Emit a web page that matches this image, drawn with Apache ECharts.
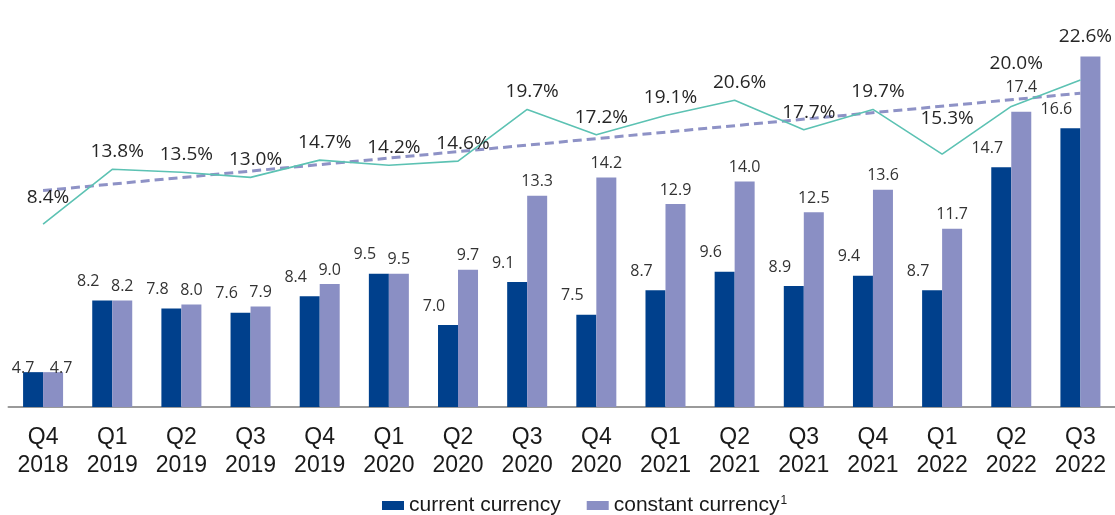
<!DOCTYPE html>
<html>
<head>
<meta charset="utf-8">
<script src="https://cdn.jsdelivr.net/npm/echarts@6/dist/echarts.min.js"></script>
<style>
  html, body { margin: 0; padding: 0; background: #fff; }
  #chart { width: 1115px; height: 515px; }
</style>
</head>
<body>
<div id="chart"></div>
<script>
var quarters = ['Q4\n2018', 'Q1\n2019', 'Q2\n2019', 'Q3\n2019', 'Q4\n2019', 'Q1\n2020', 'Q2\n2020', 'Q3\n2020',
  'Q4\n2020', 'Q1\n2021', 'Q2\n2021', 'Q3\n2021', 'Q4\n2021', 'Q1\n2022', 'Q2\n2022', 'Q3\n2022']
var currentCurrency = [4.7, 8.2, 7.8, 7.6, 8.4, 9.5, 7.0, 9.1, 7.5, 8.7, 9.6, 8.9, 9.4, 8.7, 14.7, 16.6]
// last bar has no printed label in the source, value estimated from its height
var constantCurrency = [4.7, 8.2, 8.0, 7.9, 9.0, 9.5, 9.7, 13.3, 14.2, 12.9, 14.0, 12.5, 13.6, 11.7, 17.4, 20.1]
var growthPct = [8.4, 13.8, 13.5, 13.0, 14.7, 14.2, 14.6, 19.7, 17.2, 19.1, 20.6, 17.7, 19.7, 15.3, 20.0, 22.6]
// trend line end points
var trendStart = 11.7
var trendEnd = 21.3

var chart = echarts.init(document.getElementById('chart'))

// extra lift (px) for % labels that would sit on a bar
var liftPct = { 0: 9, 13: 18, 14: 25, 15: 26 }

var option = {
  animation: false,
  textStyle: { fontFamily: 'Open Sans' },
  grid: {
    left: 8.5,
    width: 1109,
    top: 17.5,
    bottom: 108
  },
  legend: {
    data: ['current currency', 'constant currency'],
    bottom: -6,
    left: 377,
    icon: 'rect',
    itemWidth: 22,
    itemHeight: 9,
    itemGap: 26,
    formatter: function (name) {
      return name === 'constant currency' ? name + '{sup|1}' : name
    },
    textStyle: {
      fontFamily: 'Liberation Sans',
      fontSize: 21,
      color: '#1a1a1a',
      rich: {
        sup: { fontSize: 12, fontFamily: 'Liberation Sans', color: '#1a1a1a', verticalAlign: 'top', padding: [0, 0, 10, 1] }
      }
    }
  },
  xAxis: {
    type: 'category',
    data: quarters,
    boundaryGap: true,
    axisLine: { onZero: false, lineStyle: { color: '#9a9a9a', width: 2 } },
    axisTick: { alignWithLabel: true, length: 6, lineStyle: { color: '#9a9a9a', width: 2 } },
    axisLabel: {
      interval: 0,
      margin: 17,
      fontFamily: 'Liberation Sans',
      fontSize: 23,
      lineHeight: 28,
      color: '#1a1a1a'
    }
  },
  yAxis: [
    { type: 'value', min: 3, max: 22, show: false },
    { type: 'value', min: -9.65, max: 28.77, show: false }
  ],
  series: [
    {
      name: 'current currency',
      type: 'bar',
      barWidth: 20,
      barGap: '0%',
      itemStyle: { color: '#00408c' },
      label: {
        show: true,
        position: 'top',
        distance: 11,
        fontSize: 16,
        color: '#333',
        formatter: function (p) { return p.value.toFixed(1) }
      },
      labelLayout: function (p) {
        // first pair of labels sits on the bar tops
        return p.dataIndex === 0 ? { dx: -10, dy: 15 } : { dx: -14 }
      },
      data: currentCurrency
    },
    {
      name: 'constant currency',
      type: 'bar',
      barWidth: 20,
      barGap: '0%',
      itemStyle: { color: '#8a8fc4' },
      label: {
        show: true,
        position: 'top',
        distance: 6,
        fontSize: 16,
        color: '#333',
        formatter: function (p) {
          return p.dataIndex === constantCurrency.length - 1 ? '' : p.value.toFixed(1)
        }
      },
      labelLayout: function (p) {
        if (p.dataIndex === 0) return { dx: 8, dy: 10 }
        if (p.dataIndex === 14) return { dy: -10 }
        return {}
      },
      data: constantCurrency
    },
    {
      name: 'growth',
      type: 'line',
      yAxisIndex: 1,
      symbol: 'circle',
      symbolSize: 0.01,
      showSymbol: true,
      z: 5,
      itemStyle: { color: '#5cc2b3' },
      lineStyle: { color: '#5cc2b3', width: 1.6 },
      label: {
        show: true,
        position: 'top',
        distance: 8,
        fontSize: 19,
        color: '#262626',
        formatter: function (p) { return p.value.toFixed(1) + '%' }
      },
      labelLayout: function (p) {
        return { dx: 5, dy: -(liftPct[p.dataIndex] || 0), hideOverlap: false }
      },
      data: growthPct
    },
    {
      name: 'trend',
      type: 'line',
      yAxisIndex: 1,
      symbol: 'none',
      z: 4,
      silent: true,
      lineStyle: { color: '#8e92c6', width: 3, type: [9, 5] },
      data: [[quarters[0], trendStart], [quarters[quarters.length - 1], trendEnd]]
    }
  ]
}

chart.setOption(option)
</script>
</body>
</html>
